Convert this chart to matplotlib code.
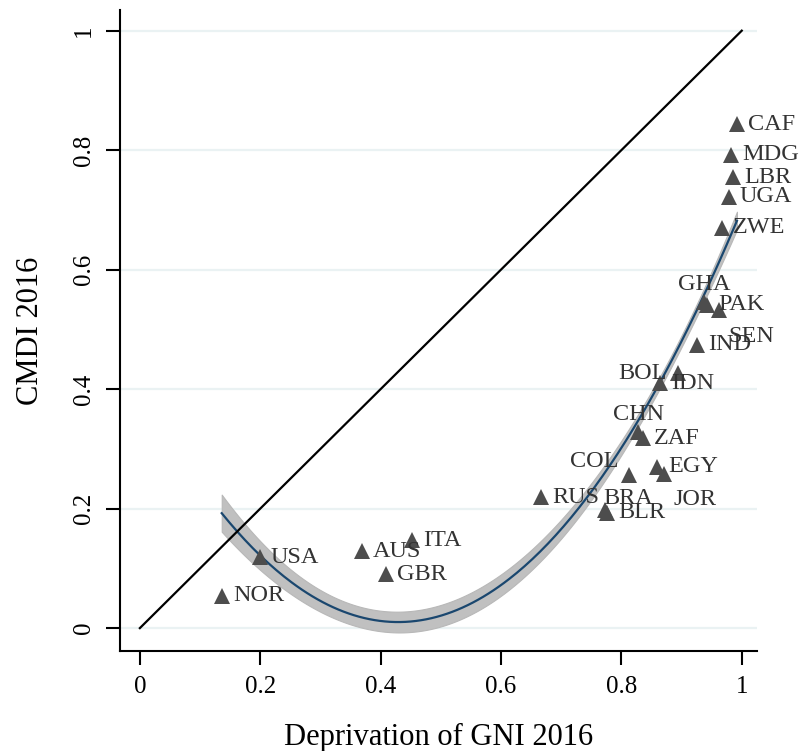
import matplotlib
matplotlib.use("Agg")
import matplotlib.pyplot as plt
import numpy as np

# country codes, deprivation of GNI (x) and CMDI (y), 2016
countries = ["CAF", "MDG", "LBR", "UGA", "ZWE", "GHA", "PAK", "SEN", "IND",
             "BOL", "IDN", "CHN", "ZAF", "COL", "EGY", "JOR", "RUS", "BRA",
             "BLR", "USA", "NOR", "AUS", "ITA", "GBR"]
gni_dep = [0.992, 0.982, 0.985, 0.978, 0.967, 0.937, 0.943, 0.962, 0.925,
           0.894, 0.865, 0.828, 0.836, 0.812, 0.859, 0.870, 0.666, 0.772,
           0.776, 0.199, 0.136, 0.369, 0.452, 0.409]
cmdi = [0.843, 0.792, 0.755, 0.722, 0.670, 0.546, 0.541, 0.532, 0.474,
        0.427, 0.410, 0.328, 0.318, 0.256, 0.270, 0.258, 0.219, 0.198,
        0.193, 0.119, 0.054, 0.129, 0.147, 0.090]
# marker label clock position (Stata style)
label_pos = [3, 3, 3, 3, 3, 12, 3, 4, 3,
             9, 3, 12, 3, 11, 3, 4, 3, 1,
             3, 3, 3, 3, 3, 3]

ticks = [0, 0.2, 0.4, 0.6, 0.8, 1]
tick_labels = ["0", "0.2", "0.4", "0.6", "0.8", "1"]

plt.rcParams["font.family"] = ["Liberation Serif", "DejaVu Serif"]

x = np.array(gni_dep)
y = np.array(cmdi)

# quadratic fit with CI band (like Stata qfitci); the original fit used a
# larger sample, so the band is narrower than these 24 points give
X = np.column_stack([np.ones_like(x), x, x ** 2])
beta, _, _, _ = np.linalg.lstsq(X, y, rcond=None)
resid = y - X @ beta
n, k = X.shape
s2 = resid @ resid / (n - k)
cov = s2 * np.linalg.inv(X.T @ X)
xs = np.linspace(x.min(), x.max(), 200)
Xs = np.column_stack([np.ones_like(xs), xs, xs ** 2])
fit = Xs @ beta
se = np.sqrt(np.einsum("ij,jk,ik->i", Xs, cov, Xs))
band_scale = 0.21
lo, hi = fit - 2.08 * band_scale * se, fit + 2.08 * band_scale * se

fig = plt.figure(figsize=(8, 7.51), dpi=100)
ax = fig.add_axes([0.15, 0.133, 0.796, 0.854])

for t in ticks:
    ax.axhline(t, color="#eaf2f3", lw=1.6, zorder=0)

ax.fill_between(xs, lo, hi, color="#c0c0c0", lw=0.8, edgecolor="#b8b8b8",
                zorder=1)
ax.plot(xs, fit, color="#1a476f", lw=1.6, zorder=2)
ax.plot([0, 1], [0, 1], color="black", lw=1.6, zorder=3)
ax.plot(x, y, "^", color="#4d4d4d", ms=12, mew=0, zorder=4)

offsets = {
    3: ((8, 0), "left", "center"),
    12: ((0, 5), "center", "bottom"),
    9: ((-8, 0), "right", "center"),
    4: ((7, -11), "left", "top"),
    11: ((-7, 2), "right", "bottom"),
    1: ((-1, 8), "left", "center"),
}
for c, xi, yi, p in zip(countries, gni_dep, cmdi, label_pos):
    off, ha, va = offsets[p]
    ax.annotate(c, (xi, yi), xytext=off, textcoords="offset points",
                ha=ha, va=va, fontsize=17.5, color="#333333", zorder=5)

ax.set_xlim(-0.033, 1.025)
ax.set_ylim(-0.0385, 1.035)
ax.set_xticks(ticks)
ax.set_xticklabels(tick_labels)
ax.set_yticks(ticks)
ax.set_yticklabels(tick_labels, rotation=90, va="center")
ax.tick_params(length=10, width=1.5, labelsize=18, pad=8, color="black")
for side in ["top", "right"]:
    ax.spines[side].set_visible(False)
for side in ["left", "bottom"]:
    ax.spines[side].set_linewidth(1.5)

ax.set_xlabel("Deprivation of GNI 2016", fontsize=22, labelpad=18)
ax.set_ylabel("CMDI 2016", fontsize=22, labelpad=20)

fig.savefig("out.png", dpi=100, facecolor="white")
